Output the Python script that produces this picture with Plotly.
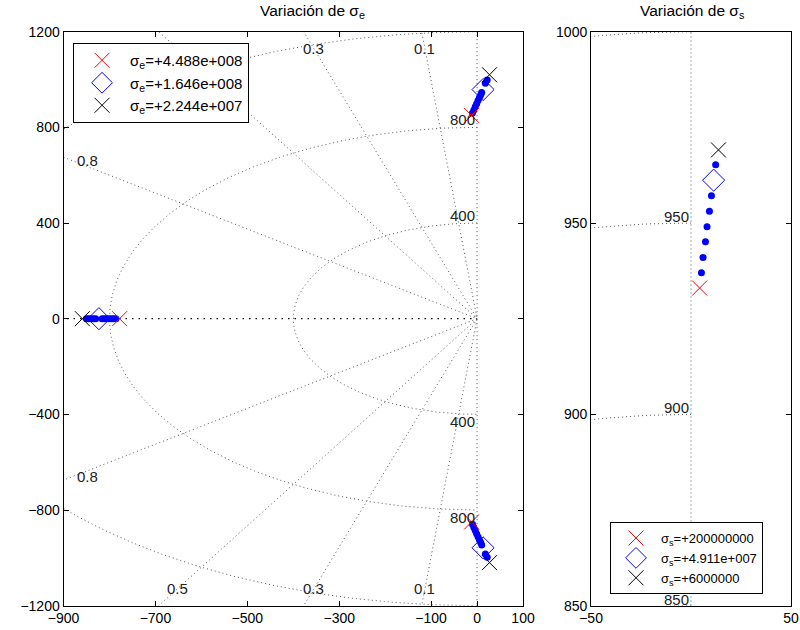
import numpy as np
import plotly.graph_objects as go

# ---------------- data ----------------
# Left panel: variation of sigma_e
e_legend = ["σ<sub>e</sub>=+4.488e+008", "σ<sub>e</sub>=+1.646e+008", "σ<sub>e</sub>=+2.244e+007"]
e_start_x = [-778, -12, -12]      # red X (sigma_e = 4.488e8)
e_start_y = [0, 850, -850]
e_mid_x = [-823, 13, 13]          # blue diamond (sigma_e = 1.646e8)
e_mid_y = [0, 958, -958]
e_end_x = [-859, 27, 27]          # black X (sigma_e = 2.244e7)
e_end_y = [0, 1020, -1020]
e_dots_real_x = [-850, -845, -840, -835, -830, -816, -811, -806, -801, -796, -791, -786]
e_dots_real_y = [0, 0, 0, 0, 0, 0, 0, 0, 0, 0, 0, 0]
e_dots_up_x = [-10, -7, -4, -1, 2, 5, 8, 10, 18, 22]
e_dots_up_y = [860, 873, 886, 899, 912, 924, 936, 946, 984, 998]
e_dots_lo_x = [-10, -7, -4, -1, 2, 5, 8, 10, 18, 22]
e_dots_lo_y = [-860, -873, -886, -899, -912, -924, -936, -946, -984, -998]

# Right panel: variation of sigma_s
s_legend = ["σ<sub>s</sub>=+200000000", "σ<sub>s</sub>=+4.911e+007", "σ<sub>s</sub>=+6000000"]
s_start_x, s_start_y = [4.3], [933.0]
s_mid_x, s_mid_y = [11.3], [961.2]
s_end_x, s_end_y = [13.7], [969.1]
s_dots_x = [5.2, 6.0, 7.2, 8.0, 9.2, 10.2, 12.3]
s_dots_y = [937.0, 941.0, 945.1, 949.0, 953.1, 957.1, 965.2]

# grid (sgrid) definitions and ticks
zeta_vals = [0.1, 0.3, 0.5, 0.8]
zeta_labels = ["0.1", "0.3", "0.5", "0.8"]
wn_left = [400, 800, 1200]
wn_left_labels = ["400", "800"]
wn_right = [850, 900, 950, 1000]
wn_right_labels = ["850", "900", "950"]
x1_ticks = [-900, -700, -500, -300, -100, 0, 100]
y1_ticks = [-1200, -800, -400, 0, 400, 800, 1200]
x2_ticks = [-50, 50]
y2_ticks = [850, 900, 950, 1000]
titles = ["Variación de σ<sub>e</sub>", "Variación de σ<sub>s</sub>"]

FONT = "Liberation Sans, Arial, sans-serif"
GRID = dict(color="#555555", width=1, dash="1px,3px")

fig = go.Figure()

def add_grid(xa, ya, wns, zetas, R):
    th = np.linspace(np.pi / 2, 3 * np.pi / 2, 721)
    for w in wns:
        fig.add_trace(go.Scatter(x=w * np.cos(th), y=w * np.sin(th), mode="lines",
                                 line=GRID, hoverinfo="skip", showlegend=False,
                                 xaxis=xa, yaxis=ya))
    for z in zetas:
        s = np.sqrt(1 - z * z)
        fig.add_trace(go.Scatter(x=[-z * R, 0, -z * R], y=[s * R, 0, -s * R], mode="lines",
                                 line=GRID, hoverinfo="skip", showlegend=False,
                                 xaxis=xa, yaxis=ya))
    # imaginary axis
    fig.add_trace(go.Scatter(x=[0, 0], y=[-R, R], mode="lines", line=GRID,
                             hoverinfo="skip", showlegend=False, xaxis=xa, yaxis=ya))

add_grid("x", "y", wn_left, zeta_vals, 3000)
# real axis (zeta = 1)
fig.add_trace(go.Scatter(x=[-3000, 0], y=[0, 0], mode="lines",
                         line=dict(color="black", width=1.3, dash="1.5px,5px"),
                         hoverinfo="skip", showlegend=False, xaxis="x", yaxis="y"))
add_grid("x2", "y2", wn_right, [], 3000)

# ---------------- locus points ----------------
def pts(x, y, xa, ya, name, symbol, color, size, legend, show, lw=1):
    fig.add_trace(go.Scatter(
        x=x, y=y, mode="markers", name=name, legend=legend, showlegend=show,
        marker=dict(symbol=symbol, size=size, color=color,
                    line=dict(color=color, width=lw)),
        xaxis=xa, yaxis=ya))

pts(e_dots_real_x + e_dots_up_x + e_dots_lo_x, e_dots_real_y + e_dots_up_y + e_dots_lo_y,
    "x", "y", "dots", "circle", "blue", 7, "legend", False, 0)
pts(e_start_x, e_start_y, "x", "y", e_legend[0], "x-thin-open", "red", 15, "legend", True)
pts(e_mid_x, e_mid_y, "x", "y", e_legend[1], "diamond-open", "blue", 17, "legend", True)
pts(e_end_x, e_end_y, "x", "y", e_legend[2], "x-thin-open", "black", 15, "legend", True)

pts(s_dots_x, s_dots_y, "x2", "y2", "dots", "circle", "blue", 7, "legend2", False, 0)
pts(s_start_x, s_start_y, "x2", "y2", s_legend[0], "x-thin-open", "red", 15, "legend2", True)
pts(s_mid_x, s_mid_y, "x2", "y2", s_legend[1], "diamond-open", "blue", 17, "legend2", True)
pts(s_end_x, s_end_y, "x2", "y2", s_legend[2], "x-thin-open", "black", 15, "legend2", True)

# ---------------- grid labels ----------------
LBL = dict(size=15, color="#222", family=FONT)
ann = []
for z, lab in zip(zeta_vals, zeta_labels):
    s = np.sqrt(1 - z * z)
    if z < 0.7:
        yy = 1130
        xx = -yy * z / s
        for sign in ([-1] if z == 0.5 else [1, -1]):
            ann.append(dict(x=xx, y=sign * yy, xref="x", yref="y", text=lab, showarrow=False,
                            font=LBL, xanchor="center", yanchor="middle"))
    else:
        xx = -848
        yy = -xx * s / z
        for sign in [1, -1]:
            ann.append(dict(x=xx, y=sign * yy, xref="x", yref="y", text=lab, showarrow=False,
                            font=LBL, xanchor="center", yanchor="middle", yshift=sign * 6))
for w, lab in zip(wn_left, wn_left_labels):
    ann.append(dict(x=0, y=w, xref="x", yref="y", text=lab, showarrow=False,
                    font=LBL, xanchor="right", yanchor="bottom", yshift=-3))
    ann.append(dict(x=0, y=-w, xref="x", yref="y", text=lab, showarrow=False,
                    font=LBL, xanchor="right", yanchor="top", yshift=3))
for w, lab in zip(wn_right, wn_right_labels):
    ann.append(dict(x=0, y=w, xref="x2", yref="y2", text=lab, showarrow=False,
                    font=LBL, xanchor="right", yanchor="bottom", yshift=-4))

ann.append(dict(x=0.39, y=0.981, xref="paper", yref="paper", text=titles[0], showarrow=False,
                font=dict(size=15.5, color="black", family=FONT), xanchor="center", yanchor="middle"))
ann.append(dict(x=0.866, y=0.981, xref="paper", yref="paper", text=titles[1], showarrow=False,
                font=dict(size=15.5, color="black", family=FONT), xanchor="center", yanchor="middle"))

ax_common = dict(showline=True, linecolor="black", linewidth=1, mirror="ticks",
                 ticks="inside", ticklen=5, tickcolor="black", showgrid=False, zeroline=False,
                 automargin=False,
                 tickfont=dict(family=FONT, size=14, color="black"))

fig.update_layout(
    width=800, height=630,
    margin=dict(l=0, r=0, t=0, b=0, autoexpand=False),
    paper_bgcolor="white", plot_bgcolor="white",
    font=dict(family=FONT, size=14, color="black"),
    xaxis=dict(domain=[0.0794, 0.6538], range=[-900, 100], tickvals=x1_ticks, anchor="y", **ax_common),
    yaxis=dict(domain=[0.0386, 0.9497], range=[-1200, 1200], tickvals=y1_ticks, anchor="x", **ax_common),
    xaxis2=dict(domain=[0.7388, 0.9888], range=[-50, 50], tickvals=x2_ticks, anchor="y2", **ax_common),
    yaxis2=dict(domain=[0.0386, 0.9497], range=[850, 1000], tickvals=y2_ticks, anchor="x2", **ax_common),
    legend=dict(x=0.0913, y=0.9317, xanchor="left", yanchor="top", bgcolor="white",
                bordercolor="black", borderwidth=1, font=dict(size=15, family=FONT),
                itemwidth=46, tracegroupgap=0),
    legend2=dict(x=0.7625, y=0.0571, xanchor="left", yanchor="bottom", bgcolor="white",
                 bordercolor="black", borderwidth=1, font=dict(size=13, family=FONT),
                 itemwidth=40, tracegroupgap=0),
    annotations=ann,
    showlegend=True,
)

fig.write_html("out.html", config={"displayModeBar": False},
               post_script="document.body.style.margin='0';document.body.style.overflow='hidden';")
